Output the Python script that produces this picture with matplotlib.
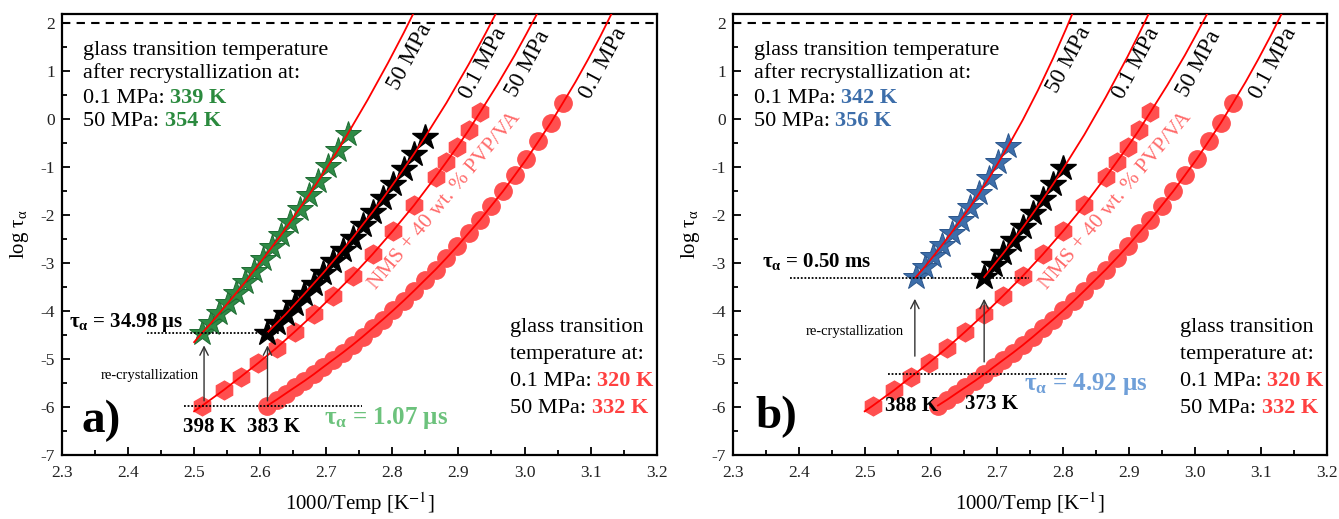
import numpy as np
import matplotlib
matplotlib.use('Agg')
import matplotlib.pyplot as plt
from matplotlib.ticker import MultipleLocator

plt.rcParams['font.family'] = ['Liberation Serif', 'DejaVu Serif']
plt.rcParams['mathtext.fontset'] = 'stix'

# measured points: temperature [K] and log tau_alpha
# NMS + 40 wt.% PVP/VA, 0.1 MPa (circles) - same in both panels
T_circ = [383, 381, 379, 377, 375, 373, 371, 369, 367, 365, 363, 361, 359, 357, 355,
          353, 351, 349, 347, 345, 343, 341, 339, 337, 335, 333, 331, 329, 327]
y_circ = [-5.97, -5.85, -5.72, -5.59, -5.46, -5.32, -5.17, -5.02, -4.87, -4.71, -4.54,
          -4.36, -4.18, -3.99, -3.79, -3.58, -3.36, -3.14, -2.90, -2.65, -2.38, -2.11,
          -1.81, -1.51, -1.18, -0.84, -0.47, -0.09, 0.33]
# fit line continuation above the last point
T_circ_fit_hi = [325, 323, 321, 319]
y_circ_fit_hi = [0.76, 1.23, 1.73, 2.27]

# NMS + 40 wt.% PVP/VA, 50 MPa (hexagons)
T_hex = [398, 393, 389, 385, 381, 377, 373, 369, 365, 361, 357, 353, 349, 347, 345, 343, 341]
y_hex = [-5.97, -5.65, -5.37, -5.08, -4.77, -4.43, -4.07, -3.68, -3.27, -2.82, -2.33,
         -1.80, -1.21, -0.90, -0.58, -0.24, 0.13]
T_hex_fit_lo = [400]
y_hex_fit_lo = [-6.09]
T_hex_fit_hi = [338, 335, 333, 331]
y_hex_fit_hi = [0.70, 1.32, 1.77, 2.24]

# panel a) recrystallized sample
T_a50 = [398, 396, 394, 392, 390, 388, 386, 384, 382, 380, 378, 376, 374, 372, 370, 368, 366]
y_a50 = [-4.45, -4.26, -4.05, -3.84, -3.62, -3.40, -3.16, -2.92, -2.67, -2.42, -2.15,
         -1.87, -1.59, -1.29, -0.98, -0.66, -0.32]
T_a50_fit_lo = [400]
y_a50_fit_lo = [-4.65]
T_a50_fit_hi = [362, 358, 355, 353]
y_a50_fit_hi = [0.39, 1.16, 1.78, 2.22]

T_a01 = [383, 381, 379, 377, 375, 373, 371, 369, 367, 365, 363, 361, 359, 357, 355, 353, 351]
y_a01 = [-4.45, -4.26, -4.07, -3.86, -3.65, -3.43, -3.21, -2.97, -2.73, -2.48, -2.21,
         -1.94, -1.66, -1.36, -1.05, -0.73, -0.39]
T_a01_fit_hi = [347, 343, 340, 338]
y_a01_fit_hi = [0.33, 1.13, 1.78, 2.24]

# panel b) recrystallized sample
T_b50 = [388, 386, 384, 382, 380, 378, 376, 374, 372, 370, 368]
y_b50 = [-3.30, -3.09, -2.86, -2.62, -2.37, -2.11, -1.84, -1.55, -1.24, -0.91, -0.57]
T_b50_fit_hi = [365, 362, 359, 356.5, 355]
y_b50_fit_hi = [-0.02, 0.59, 1.26, 1.87, 2.26]

T_b01 = [373, 371, 369, 367, 365, 363, 361, 359, 357]
y_b01 = [-3.30, -3.05, -2.80, -2.53, -2.26, -1.97, -1.67, -1.36, -1.03]
T_b01_fit_hi = [353, 349, 345, 342, 340]
y_b01_fit_hi = [-0.33, 0.45, 1.30, 2.00, 2.50]

RED = '#ff4f4f'
GREEN = '#2e8b46'
BLUE = '#3d6eaa'


def inv(T):
    return 1000.0 / np.asarray(T, dtype=float)


def setup(ax):
    ax.set_xlim(2.3, 3.2)
    ax.set_ylim(-7, 2.18)
    ax.xaxis.set_major_locator(MultipleLocator(0.1))
    ax.xaxis.set_minor_locator(MultipleLocator(0.05))
    ax.yaxis.set_major_locator(MultipleLocator(1))
    ax.yaxis.set_minor_locator(MultipleLocator(0.5))
    ax.tick_params(which='both', direction='in', top=False, right=False,
                   labelsize=12.5, labelcolor='#222222', width=1.3)
    ax.tick_params(which='major', length=6)
    ax.tick_params(which='minor', length=3.5)
    ax.tick_params(axis='x', which='major', pad=7)
    ax.tick_params(axis='y', which='major', pad=5)
    ax.xaxis.set_major_formatter(plt.FuncFormatter(lambda v, p: '%.1f' % v))
    ax.yaxis.set_major_formatter(plt.FuncFormatter(lambda v, p: '%d' % round(v)))
    for s in ax.spines.values():
        s.set_linewidth(1.6)
    ax.axhline(2, color='k', ls=(0, (4, 3)), lw=1.5, zorder=1)
    ax.set_xlabel('1000/Temp [K$^{-1}$]', fontsize=15, labelpad=7)
    ax.set_ylabel(r'log $\mathregular{\tau_\alpha}$', fontsize=15, labelpad=7)


def two_color(ax, x, y, first, second, color, size=16):
    t = ax.text(x, y, first, fontsize=size, va='center', ha='left')
    ax.annotate(second, xy=(1, 0), xycoords=t, xytext=(4, 0), textcoords='offset points',
                va='bottom', ha='left', fontsize=size, color=color, weight='bold')


def red_data(ax):
    ax.plot(inv(T_circ), y_circ, 'o', ms=12.5, color=RED, mec=RED, zorder=2)
    ax.plot(inv(T_hex), y_hex, 'h', ms=13.5, color=RED, mec=RED, zorder=2)
    ax.plot(inv(T_circ + T_circ_fit_hi), y_circ + y_circ_fit_hi, color='red', lw=1.3, zorder=4)
    ax.plot(inv(T_hex_fit_lo + T_hex + T_hex_fit_hi), y_hex_fit_lo + y_hex + y_hex_fit_hi,
            color='red', lw=1.3, zorder=4)


def mpa_label(ax, x, y, s):
    ax.text(x, y, s, fontsize=16.5, rotation=62, ha='center', va='center',
            rotation_mode='anchor')


def common_text(ax, c01, c50, col):
    ax.text(2.332, 1.43, 'glass transition temperature', fontsize=16, va='center')
    ax.text(2.332, 0.95, 'after recrystallization at:', fontsize=16, va='center')
    two_color(ax, 2.332, 0.43, '0.1 MPa:', c01, col)
    two_color(ax, 2.332, -0.05, '50 MPa:', c50, col)

    ax.text(2.978, -4.34, 'glass transition', fontsize=16, va='center')
    ax.text(2.978, -4.90, 'temperature at:', fontsize=16, va='center')
    two_color(ax, 2.978, -5.48, '0.1 MPa:', '320 K', '#ff4040')
    two_color(ax, 2.978, -6.03, '50 MPa:', '332 K', '#ff4040')

    mpa_label(ax, 3.006, 1.15, '50 MPa')
    mpa_label(ax, 3.119, 1.15, '0.1 MPa')
    ax.text(2.88, -1.70, 'NMS + 40 wt. % PVP/VA', fontsize=15.5, color='#ff6a6a', rotation=50,
            ha='center', va='center', rotation_mode='anchor')


def arrow(ax, x, y0, y1):
    ax.annotate('', xy=(x, y1), xytext=(x, y0),
                arrowprops=dict(arrowstyle='->,head_length=0.6,head_width=0.3',
                                color='#333333', lw=1.0), zorder=5)


fig = plt.figure(figsize=(13.39, 5.19), dpi=100)
axL = fig.add_axes([0.0463, 0.1233, 0.4441, 0.8497])
axR = fig.add_axes([0.5472, 0.1233, 0.4436, 0.8497])

# ---- panel a ----
ax = axL
setup(ax)
red_data(ax)
ax.plot(inv(T_a50), y_a50, '*', ms=19, color=GREEN, mec='#1f6b33', mew=0.7, zorder=3)
ax.plot(inv(T_a01), y_a01, '*', ms=19, color='k', mec='k', zorder=3)
ax.plot(inv(T_a50_fit_lo + T_a50 + T_a50_fit_hi), y_a50_fit_lo + y_a50 + y_a50_fit_hi,
        color='red', lw=1.3, zorder=4)
ax.plot(inv(T_a01 + T_a01_fit_hi), y_a01 + y_a01_fit_hi, color='red', lw=1.3, zorder=4)
common_text(ax, '339 K', '354 K', '#2b8a3e')
mpa_label(ax, 2.826, 1.29, '50 MPa')
mpa_label(ax, 2.938, 1.15, '0.1 MPa')

ax.plot([2.429, 2.629], [-4.47, -4.47], color='k', ls=(0, (1, 1)), lw=1.3, zorder=5)
ax.plot([2.484, 2.754], [-5.98, -5.98], color='k', ls=(0, (1, 1)), lw=1.3, zorder=5)
arrow(ax, 2.515, -5.93, -4.66)
arrow(ax, 2.611, -5.93, -4.66)
ax.text(2.507, -5.34, 're-crystallization', fontsize=10.5, ha='right', va='center')
ax.text(2.310, -4.24, r'$\mathregular{\tau_\alpha}$ = 34.98 μs', fontsize=15, weight='bold',
        va='center')
ax.text(2.524, -6.41, '398 K', fontsize=15, weight='bold', ha='center', va='center')
ax.text(2.620, -6.41, '383 K', fontsize=15, weight='bold', ha='center', va='center')
ax.text(2.697, -6.24, r'$\mathregular{\tau_\alpha}$ = 1.07 μs', fontsize=18, weight='bold',
        color='#6cc27c', va='center')
ax.text(2.330, -6.30, 'a)', fontsize=34, weight='bold', va='center')

# ---- panel b ----
ax = axR
setup(ax)
red_data(ax)
ax.plot(inv(T_b50), y_b50, '*', ms=19, color=BLUE, mec='#2b568c', mew=0.7, zorder=3)
ax.plot(inv(T_b01), y_b01, '*', ms=19, color='k', mec='k', zorder=3)
ax.plot(inv(T_b50 + T_b50_fit_hi), y_b50 + y_b50_fit_hi, color='red', lw=1.3, zorder=4)
ax.plot(inv(T_b01 + T_b01_fit_hi), y_b01 + y_b01_fit_hi, color='red', lw=1.3, zorder=4)
common_text(ax, '342 K', '356 K', BLUE)
mpa_label(ax, 2.810, 1.23, '50 MPa')
mpa_label(ax, 2.911, 1.15, '0.1 MPa')

ax.plot([2.387, 2.749], [-3.32, -3.32], color='k', ls=(0, (1, 1)), lw=1.3, zorder=5)
ax.plot([2.536, 2.807], [-5.32, -5.32], color='k', ls=(0, (1, 1)), lw=1.3, zorder=5)
arrow(ax, 2.576, -5.00, -3.69)
arrow(ax, 2.681, -5.12, -3.69)
ax.text(2.560, -4.43, 're-crystallization', fontsize=10.5, ha='right', va='center')
ax.text(2.345, -2.98, r'$\mathregular{\tau_\alpha}$ = 0.50 ms', fontsize=15, weight='bold',
        va='center')
ax.text(2.571, -5.97, '388 K', fontsize=15, weight='bold', ha='center', va='center', zorder=6)
ax.text(2.692, -5.93, '373 K', fontsize=15, weight='bold', ha='center', va='center', zorder=6)
ax.text(2.742, -5.52, r'$\mathregular{\tau_\alpha}$ = 4.92 μs', fontsize=18, weight='bold',
        color='#6f9fd8', va='center')
ax.text(2.334, -6.21, 'b)', fontsize=34, weight='bold', va='center')

fig.savefig('out.png', dpi=100)
